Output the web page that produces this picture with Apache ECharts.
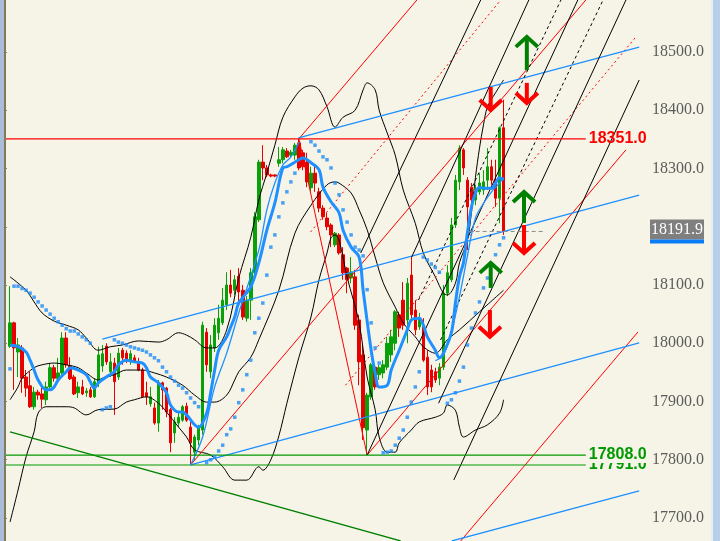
<!DOCTYPE html>
<html>
<head>
<meta charset="utf-8">
<title>Chart</title>
<script src="https://cdn.jsdelivr.net/npm/echarts@6/dist/echarts.min.js"></script>
<style>
  html, body { margin: 0; padding: 0; background: #F6F4E7; }
  #chart { width: 720px; height: 541px; }
</style>
</head>
<body>
<div id="chart"></div>
<script>
// bar slots, no dates are shown on the picture
const slotCount = 161;
const firstBar = 2;

// candles from bar 2 on: [open, close, low, high]
const candles = [
  [17995, 18035, 17992, 18098], [18035, 17992, 17920, 18037], [17985, 17997, 17942, 18009], [17992, 17940, 17915, 17997],
  [17942, 17923, 17908, 17954], [17927, 17891, 17889, 17951], [17891, 17916, 17886, 17925], [17916, 17911, 17903, 17920],
  [17913, 17904, 17889, 17925], [17903, 17925, 17894, 17934], [17925, 17958, 17920, 17966], [17958, 17940, 17934, 17963],
  [17939, 17949, 17932, 17975], [17949, 18009, 17946, 18019], [18009, 17963, 17958, 18019], [17961, 17939, 17937, 17976],
  [17942, 17913, 17911, 17946], [17915, 17925, 17906, 17934], [17925, 17913, 17911, 17937], [17915, 17918, 17908, 17923],
  [17920, 17908, 17906, 17925], [17908, 17934, 17906, 17940], [17932, 17980, 17925, 17994], [17961, 17982, 17951, 17997],
  [17995, 17968, 17963, 18000], [17951, 17968, 17942, 17983], [17966, 17934, 17877, 17975], [17942, 17983, 17937, 17992],
  [17988, 17975, 17963, 17992], [17983, 17970, 17966, 17988], [17970, 17982, 17963, 17988], [17975, 17968, 17966, 17980],
  [17968, 17954, 17952, 17975], [17954, 17908, 17906, 17958], [17915, 17908, 17894, 17934], [17896, 17908, 17891, 17925],
  [17889, 17863, 17860, 17898], [17863, 17932, 17848, 17937], [17932, 17920, 17886, 17934], [17923, 17882, 17873, 17925],
  [17886, 17829, 17813, 17889], [17846, 17865, 17829, 17873], [17863, 17873, 17856, 17882], [17868, 17891, 17865, 17894],
  [17892, 17868, 17865, 17898], [17856, 17829, 17791, 17865], [17813, 17839, 17800, 17843], [17834, 17855, 17825, 17860],
  [17851, 18031, 17843, 18037], [18019, 17963, 17951, 18026], [17951, 17997, 17940, 18014], [17992, 18031, 17985, 18043],
  [18018, 18043, 18006, 18066], [18035, 18074, 18031, 18095], [18066, 18100, 18057, 18122], [18100, 18086, 18079, 18126],
  [18091, 18109, 18083, 18117], [18115, 18088, 18069, 18129], [18091, 18045, 18040, 18100], [18043, 18074, 18037, 18081],
  [18074, 18121, 18040, 18129], [18121, 18217, 18114, 18225], [18212, 18311, 18208, 18315], [18311, 18301, 18280, 18340],
  [18301, 18289, 18285, 18306], [18289, 18287, 18285, 18291], [18289, 18287, 18285, 18290], [18309, 18315, 18303, 18337],
  [18315, 18332, 18309, 18337], [18330, 18320, 18318, 18335], [18323, 18328, 18320, 18332], [18323, 18340, 18315, 18344],
  [18344, 18301, 18297, 18351], [18327, 18303, 18297, 18332], [18311, 18277, 18268, 18327], [18267, 18292, 18260, 18303],
  [18292, 18275, 18260, 18306], [18260, 18232, 18225, 18267], [18232, 18217, 18212, 18237], [18215, 18200, 18194, 18224],
  [18203, 18186, 18165, 18206], [18169, 18189, 18165, 18191], [18186, 18155, 18152, 18189], [18152, 18121, 18109, 18165],
  [18129, 18109, 18086, 18131], [18112, 18122, 18103, 18148], [18114, 18031, 18023, 18126], [18040, 17968, 17928, 18049],
  [17980, 17855, 17834, 17997], [17851, 17911, 17808, 17915], [17908, 17963, 17903, 17966], [17959, 17925, 17920, 17963],
  [17946, 17958, 17937, 17963], [17949, 17963, 17940, 17971], [17959, 18000, 17954, 18011], [17980, 18011, 17968, 18023],
  [18000, 18054, 17988, 18057], [18049, 18026, 18011, 18054], [18074, 18031, 18023, 18105], [18040, 18103, 18000, 18112],
  [18117, 18049, 18043, 18148], [18057, 18023, 18014, 18074], [18028, 18043, 18023, 18052], [18028, 17971, 17968, 18043],
  [17976, 17925, 17911, 17988], [17954, 17925, 17916, 17963], [17951, 17937, 17932, 17958], [17940, 17959, 17928, 17966],
  [17959, 18086, 17954, 18100], [18086, 18121, 18081, 18134], [18109, 18203, 18105, 18215], [18203, 18280, 18198, 18289],
  [18277, 18335, 18263, 18340], [18332, 18301, 18289, 18335], [18280, 18234, 18160, 18285], [18268, 18246, 18237, 18275],
  [18246, 18260, 18237, 18272], [18260, 18275, 18255, 18292], [18263, 18277, 18255, 18297], [18280, 18303, 18263, 18335],
  [18303, 18280, 18272, 18315], [18280, 18249, 18234, 18315], [18249, 18370, 18206, 18372], [18370, 18191.9, 18186, 18418]
];

// bands, read as [bar, price]
const upperBand = [[2,18114],[6,18091],[8,18071],[10,18052],[13,18038],[16,18031],[19,18023],[21,18009],[24,17988],[27,17994],
  [30,17997],[34,18004],[39,18002],[41,18006],[44,18018],[46,18014],[48,18006],[51,17992],[53,17992],[56,18023],[59,18112],
  [62,18182],[64,18246],[66,18292],[68,18340],[70,18388],[73,18423],[75,18438],[77,18442],[79,18435],[81,18406],[83,18371],
  [85,18388],[88,18400],[90,18435],[91,18447],[93,18435],[94,18400],[96,18361],[98,18323],[100,18263],[103,18206],[105,18155],
  [108,18114],[110,18086],[111,18083],[113,18103],[114,18138],[116,18177],[117,18225],[118,18285],[119,18335],[120,18375],
  [121,18406],[123,18430],[125,18452]];
const middleBand = [[2,17903],[4,17925],[5,17940],[8,17958],[10,17963],[13,17966],[16,17963],[19,17958],[21,17949],[24,17937],
  [25,17940],[28,17946],[31,17954],[35,17954],[38,17949],[41,17942],[45,17928],[48,17911],[51,17899],[53,17899],[56,17911],
  [58,17937],[59,17951],[62,17976],[64,18006],[69,18091],[73,18189],[77,18237],[81,18272],[83,18277],[84,18275],[87,18258],
  [89,18229],[91,18195],[93,18148],[95,18104],[98,18062],[100,18035],[103,18011],[105,17994],[108,17983],[111,18006],
  [114,18023],[119,18054],[125,18091]];
const lowerBand = [[2,17693],[4,17748],[6,17805],[8,17848],[9,17880],[11,17891],[13,17891],[16,17891],[18,17889],[21,17877],
  [24,17886],[28,17887],[31,17899],[33,17903],[36,17908],[39,17897],[41,17882],[44,17856],[46,17839],[48,17817],[52,17808],
  [55,17788],[58,17765],[61,17765],[64,17788],[65,17782],[67,17800],[69,17841],[71,17897],[74,17976],[77,18045],[79,18109],
  [81,18155],[82,18181],[83,18186],[84,18177],[86,18114],[89,18035],[91,17942],[93,17886],[94,17839],[96,17813],[98,17813],
  [99,17829],[102,17851],[104,17865],[108,17873],[110,17880],[111,17894],[113,17885],[114,17856],[115,17839],[118,17851],
  [121,17860],[124,17880],[125,17903]];

// moving averages
const maThick = [[2,17997],[4,17994],[6,17985],[7,17971],[8,17954],[9,17937],[11,17920],[12,17920],[13,17925],[14,17937],
  [16,17951],[17,17958],[19,17954],[21,17946],[22,17934],[23,17923],[24,17932],[26,17942],[28,17951],[29,17963],[31,17971],
  [33,17968],[35,17966],[36,17958],[37,17942],[39,17932],[41,17915],[42,17894],[44,17882],[45,17882],[46,17877],[48,17860],
  [49,17856],[51,17880],[52,17915],[53,17954],[54,17988],[56,18011],[57,18028],[58,18045],[59,18069],[62,18097],[64,18138],
  [66,18194],[68,18241],[70,18301],[71,18303],[74,18315],[75,18318],[77,18310],[79,18298],[80,18268],[82,18243],[84,18224],
  [85,18194],[87,18165],[89,18148],[90,18091],[92,17988],[93,17949],[94,17925],[96,17928],[97,17954],[99,17988],[101,18023],
  [102,18040],[104,18043],[105,18031],[106,18011],[108,17988],[109,17975],[110,17983],[112,18018],[113,18069],[114,18114],
  [115,18138],[116,18190],[117,18234],[118,18258],[119,18268],[120,18266],[122,18266],[123,18275],[124,18284],[125,18280]];
const maThinA = [[47,17791],[50,17839],[53,17925],[56,17983],[59,18052],[64,18160],[66,18229],[68,18275],[70,18306],[72,18320],[74,18345]];
const maThinB = [[108,17970],[110,17980],[112,18020],[114,18080],[116,18150],[118,18215],[120,18240],[122,18260],[124,18275],[125,18285]];

// parabolic SAR dots
const sarDots = [[2,17956],
  [3,18098],[4,18098],[5,18094],[6,18091],[7,18086],[8,18079],[9,18071],[10,18064],[11,18057],[12,18050],[13,18043],[14,18037],
  [15,18031],[16,18025],[17,18021],[18,18021],[19,18016],[20,18011],[21,18006],[22,18000],
  [25,17886],[26,17889],[27,17891],
  [28,18006],[29,18002],[30,18000],[31,17997],[32,17994],[33,17992],[34,17990],[35,17988],[36,17985],[37,17980],[38,17975],
  [39,17970],[40,17959],[41,17951],[42,17942],[43,17935],[44,17928],[45,17923],[46,17915],[47,17906],[48,17898],[49,17891],
  [51,17795],[52,17800],[53,17805],[54,17815],[55,17825],[56,17843],[57,17853],[58,17873],[59,17898],[60,17920],[61,17946],
  [62,17971],[63,18018],[64,18043],[65,18069],[66,18117],[67,18165],[68,18186],[69,18217],[70,18241],[71,18260],[72,18277],[73,18292],
  [77,18346],[78,18340],[79,18330],[80,18320],[81,18315],[82,18301],[83,18275],[84,18255],[85,18229],[86,18208],[87,18186],
  [88,18165],[89,18160],[90,18150],[91,18092],[92,18035],[93,17992],[94,17966],
  [95,17812],[96,17813],[97,17815],[98,17825],[99,17837],[100,17851],[101,17873],[102,17899],[103,17925],[104,17951],
  [105,18148],[106,18143],[107,18136],[108,18130],[109,18122],
  [111,17897],[112,17903],[113,17915],[114,17935],[115,17959],[116,17997],[117,18026],[118,18052],[119,18071],[120,18095],
  [121,18112],[122,18134],[123,18152],[124,18169],[125,18181]];

// drawn objects: each is [[bar, price], [bar, price]]
const redLines = [
  [[47,17791],[145.5,18589.3]], [[74,18351],[103.4,18589.3]], [[91,17808],[155.5,18332]],
  [[114.3,17660.5],[158.5,18019.4]], [[74,18351],[91,17808]]
];
const redDotted = [[[76.9,18191],[124.3,18589.3]], [[85.6,17928],[158,18526]]];
const blueLines = [
  [[25,18007],[158.8,18254.5]], [[73.9,18352.4],[158.8,18508.6]], [[47,17791],[158.8,18000.5]], [[112.1,17660.6],[158.8,17746.4]]
];
const greenLines = [[[2,17847.7],[99.35,17660.6]]];
const blackLines = [
  [[89.4,18155],[119.3,18589.3]], [[102.1,18148],[131.3,18589.3]], [[91,17808],[143.5,18589.3]],
  [[108.8,17897],[155.5,18589.3]], [[112.6,17765.3],[158.8,18452]]
];
const blackDashed = [[[103.8,18074.3],[139.3,18589.3]], [[109.3,18005.6],[149.8,18589.3]]];
const priceDash = [[116.3,18191.9],[135.1,18191.9]];

// levels
const resistance = 18351.0;
const support1 = 17808.0;
const support2 = 17791.0;
const levelEnd = 145.5;

// arrows: [bar, tail price, head price]
const upArrows = [[130.8,18469,18526], [130.1,18206.5,18259.7], [121.8,18095,18138]];
const downArrows = [[130.8,18447,18412.5], [121.8,18440,18400.5], [130.1,18203,18155], [121.6,18057,18011]];

const BG = '#F6F4E7';
const slots = [];
for (let i = 0; i < slotCount; i++) slots.push(String(i));
const candleData = [];
for (let i = 0; i < firstBar; i++) candleData.push(['-', '-', '-', '-']);
candles.forEach(c => candleData.push(c));
const lastClose = candles[candles.length - 1][1];

function seg(pts, color, type, width, z) {
  return {
    type: 'line', xAxisIndex: 1, data: pts, symbol: 'none', silent: true, z: z || 3,
    lineStyle: { color: color, width: width || 1, type: type || 'solid' }
  };
}
function curve(pts, color, width, z) {
  const s = seg(pts, color, 'solid', width, z);
  s.smooth = 0.35;
  return s;
}
function level(v, color, z, extraLabel) {
  const s = seg([[-0.5, v], [levelEnd, v]], color, 'solid', 1.2, z);
  s.endLabel = Object.assign({
    show: true, distance: 3, color: color, fontFamily: 'Liberation Sans', fontWeight: 'bold', fontSize: 16,
    formatter: p => p.value[1].toFixed(1)
  }, extraLabel || {});
  return s;
}
function arrowSeries(data, color) {
  return {
    type: 'custom', xAxisIndex: 1, data: data, silent: true, z: 6,
    renderItem: function (params, api) {
      const t = api.coord([api.value(0), api.value(1)]);
      const h = api.coord([api.value(0), api.value(2)]);
      const back = h[1] < t[1] ? 10 : -10;
      return {
        type: 'group', children: [
          { type: 'line', shape: { x1: t[0], y1: t[1], x2: h[0], y2: h[1] }, style: { stroke: color, lineWidth: 4 } },
          { type: 'polyline', shape: { points: [[h[0] - 11, h[1] + back], [h[0], h[1]], [h[0] + 11, h[1] + back]] },
            style: { stroke: color, lineWidth: 4, fill: null } }
        ]
      };
    }
  };
}

const series = [];
series.push({
  type: 'candlestick', xAxisIndex: 0, data: candleData, barWidth: 3, z: 2, silent: true,
  itemStyle: { color: '#0AA00A', color0: '#E60000', borderColor: '#0AA00A', borderColor0: '#E60000', borderWidth: 1 }
});
series.push(curve(upperBand, '#000000', 1));
series.push(curve(middleBand, '#000000', 1));
series.push(curve(lowerBand, '#000000', 1));
redLines.forEach(l => series.push(seg(l, '#FF0000', 'solid', 1)));
redDotted.forEach(l => series.push(seg(l, '#FF0000', [2, 3], 1)));
blueLines.forEach(l => series.push(seg(l, '#1E90FF', 'solid', 1.3)));
greenLines.forEach(l => series.push(seg(l, '#008000', 'solid', 1.3)));
blackLines.forEach(l => series.push(seg(l, '#000000', 'solid', 1)));
blackDashed.forEach(l => series.push(seg(l, '#000000', [3, 3], 1)));
series.push(seg(priceDash, '#8C8C8C', [4, 3], 1));
series.push(level(resistance, '#FF0000', 4));
series.push(level(support2, '#009900', 4));
series.push(level(support1, '#009900', 5, { backgroundColor: BG, lineHeight: 16, padding: [0, 0, 0, 0] }));
series.push(curve(maThinA, '#1E90FF', 1.3, 4));
series.push(curve(maThinB, '#1E90FF', 1.3, 4));
series.push(curve(maThick, '#1E90FF', 3, 5));
series.push({
  type: 'scatter', xAxisIndex: 1, data: sarDots, symbol: 'rect', symbolSize: 3.5, silent: true, z: 5,
  itemStyle: { color: '#1E8CFA' }
});
series.push(arrowSeries(upArrows, '#008000'));
series.push(arrowSeries(downArrows, '#FF0000'));
// last price tag on the right of the axis
series.push({
  type: 'line', xAxisIndex: 1, data: [[-0.5, lastClose], [slotCount - 0.5, lastClose]], symbol: 'none', silent: true, z: 10,
  clip: false, lineStyle: { opacity: 0 },
  endLabel: {
    show: true, distance: 4,
    formatter: p => '{a|' + p.value[1].toFixed(1) + '}\n{b|}',
    rich: {
      a: { backgroundColor: '#7F7F7F', color: '#FFFFFF', fontFamily: 'Liberation Serif', fontSize: 16,
           width: 52, height: 19, padding: [1, 1, 0, 1], align: 'left' },
      b: { backgroundColor: '#0A7CF5', width: 54, height: 4 }
    }
  }
});

const chart = echarts.init(document.getElementById('chart'));
chart.setOption({
  animation: false,
  backgroundColor: BG,
  grid: { left: 0, right: 74, top: 0, bottom: 0 },
  xAxis: [
    { type: 'category', data: slots, show: false, boundaryGap: true },
    { type: 'value', min: -0.5, max: slotCount - 0.5, show: false }
  ],
  yAxis: {
    type: 'value', position: 'right', min: 17660.5, max: 18589.3, splitNumber: 9, scale: true,
    splitLine: { show: false },
    axisLine: { show: true, lineStyle: { color: '#85855A', width: 1.5 } },
    axisTick: { show: true, inside: false, length: 5, lineStyle: { color: '#85855A' } },
    axisLabel: {
      margin: 6, color: '#5C5C5C', fontFamily: 'Liberation Serif', fontSize: 16,
      showMinLabel: false, showMaxLabel: false,
      formatter: v => (v === 18200 ? '' : v.toFixed(1))
    }
  },
  graphic: [
    { type: 'rect', left: 0, top: 0, z: 100, shape: { width: 4, height: 541 }, style: { fill: '#A9BDD8' } },
    { type: 'rect', left: 4, top: 0, z: 100, shape: { width: 2, height: 541 }, style: { fill: '#7D7D5C' } },
    { type: 'rect', left: 711, top: 0, z: 100, shape: { width: 2, height: 541 }, style: { fill: '#E4EEF8' } },
    { type: 'rect', left: 713, top: 0, z: 100, shape: { width: 7, height: 541 }, style: { fill: '#B8CFE9' } }
  ],
  series: series
});
</script>
</body>
</html>
